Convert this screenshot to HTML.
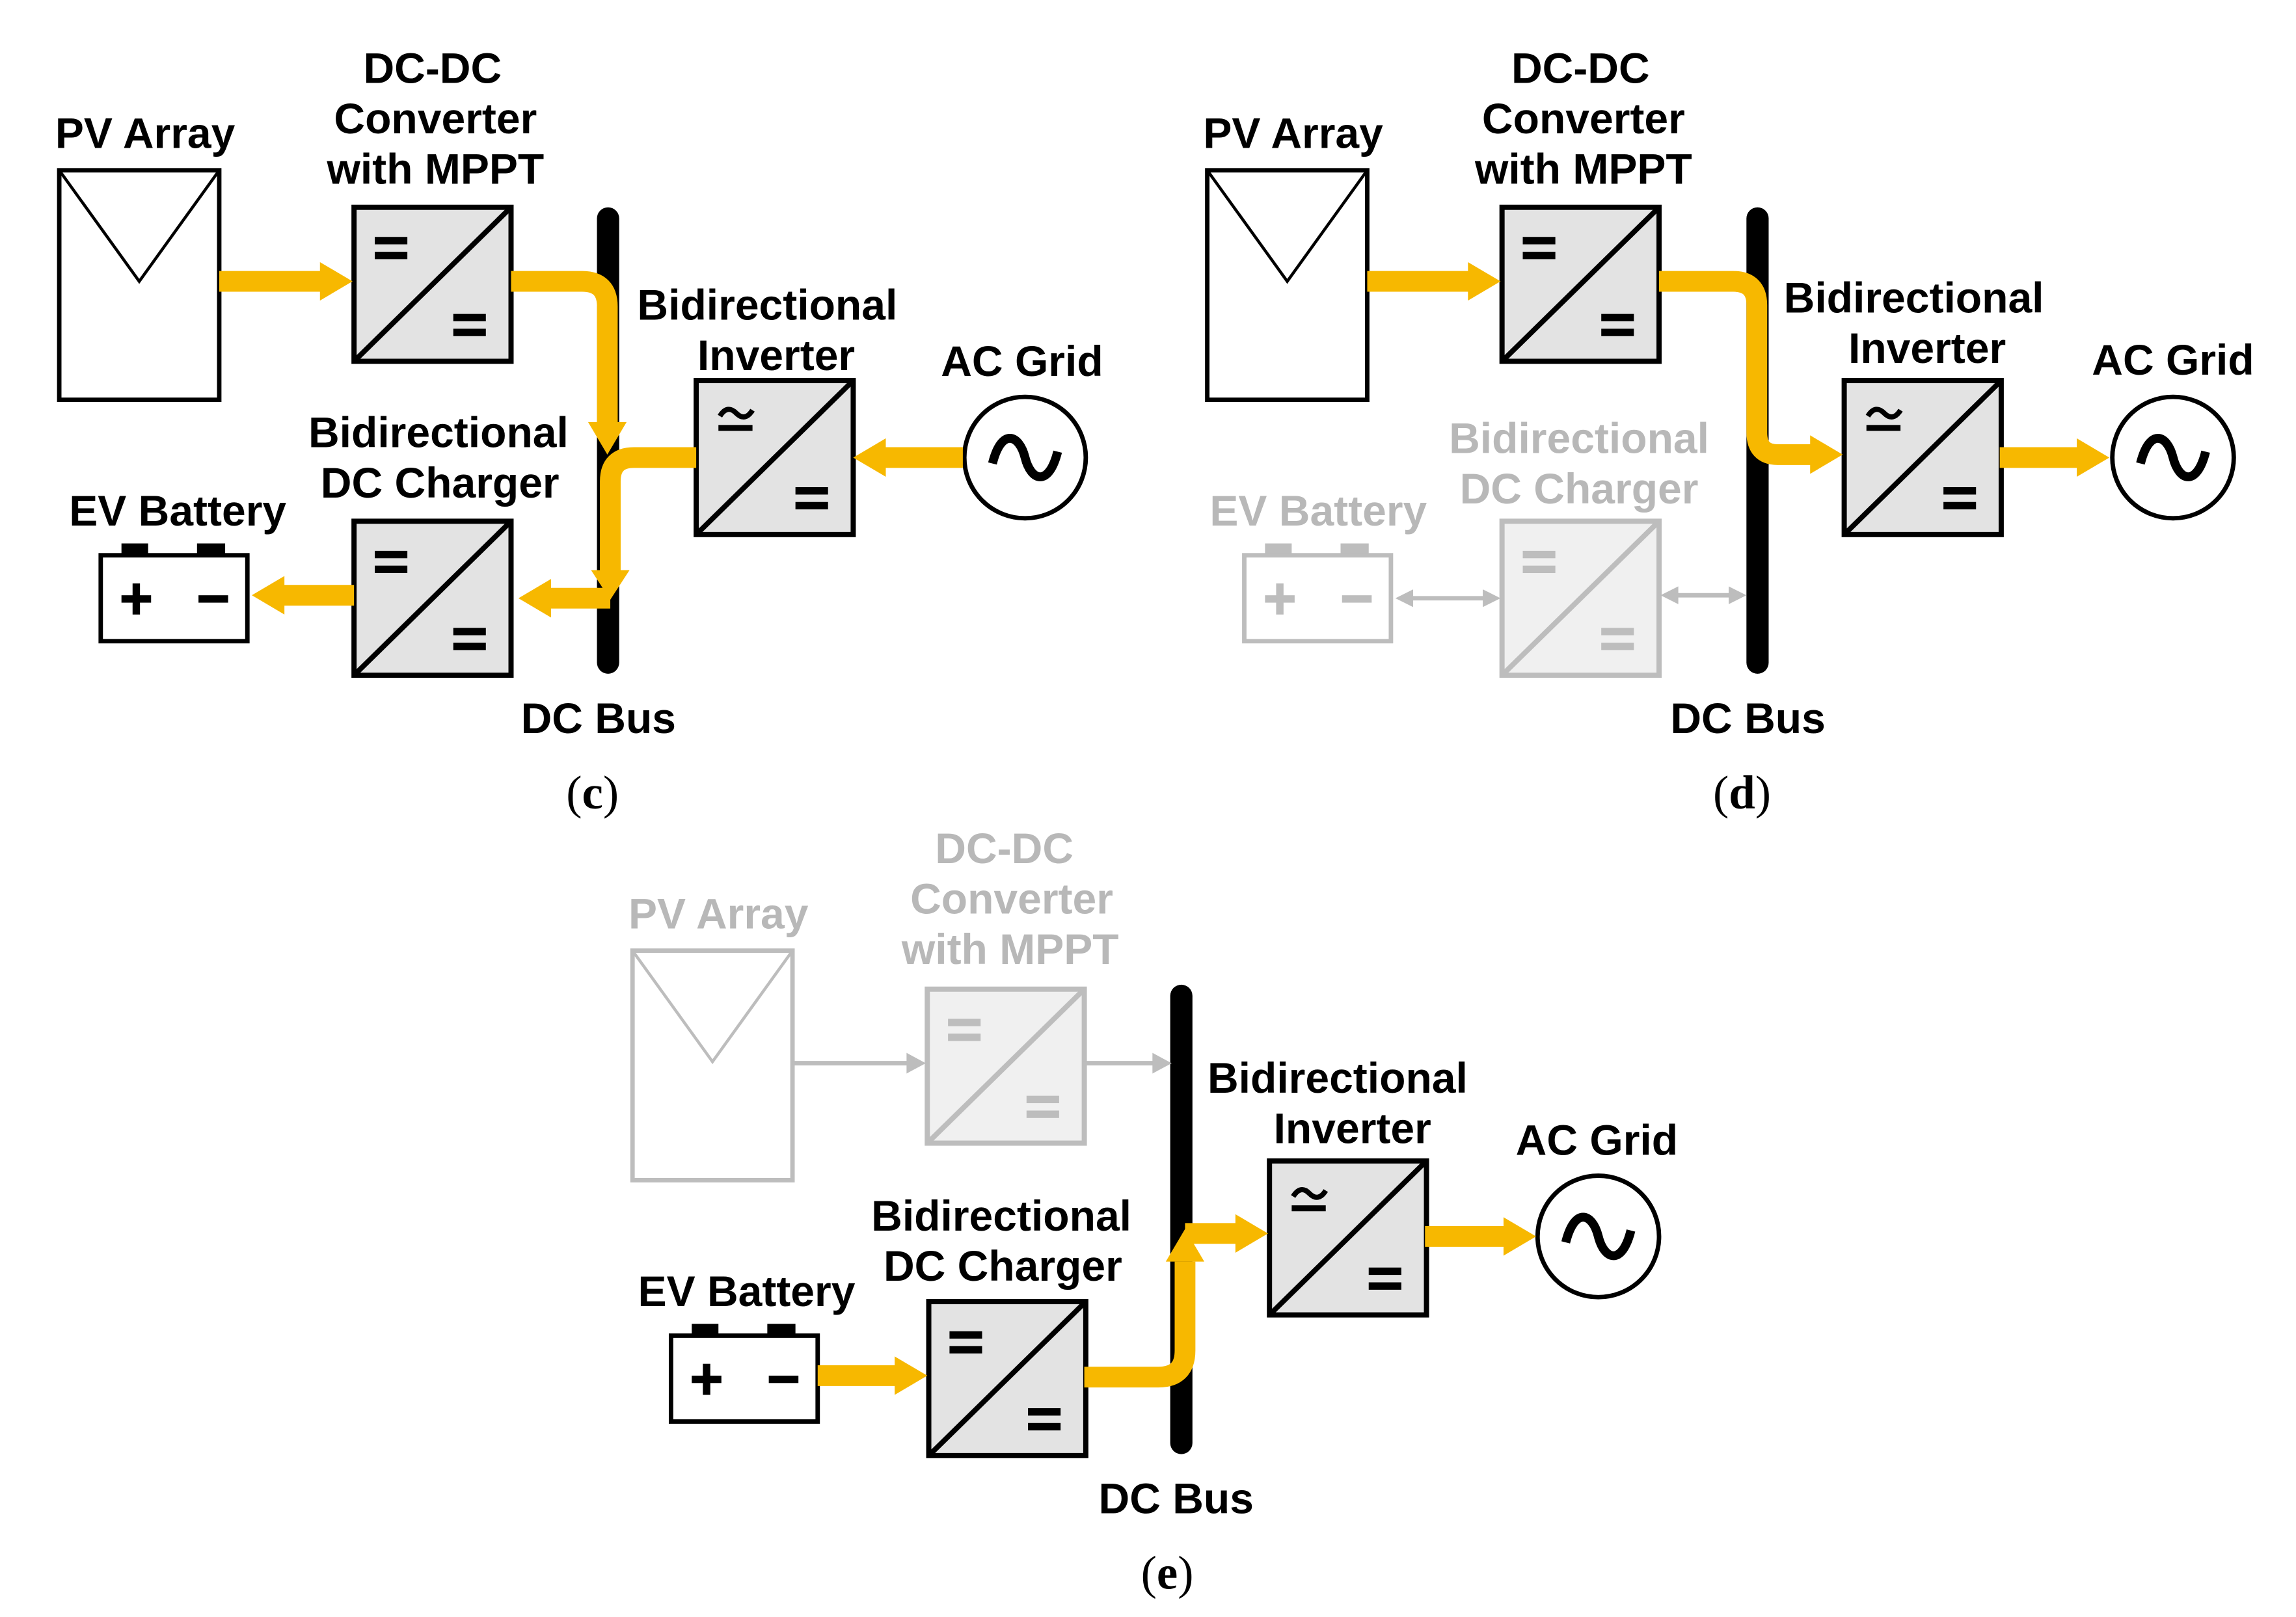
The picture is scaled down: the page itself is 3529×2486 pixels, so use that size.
<!DOCTYPE html>
<html><head><meta charset="utf-8"><style>
html,body{margin:0;padding:0;background:#fff;}
svg{display:block;}
text{font-family:"Liberation Sans",Arial,sans-serif;font-weight:bold;font-size:29px;text-anchor:middle;}
.g{fill:#b8b8b8;}
.cap{font-family:"Liberation Serif",serif;font-size:32px;font-weight:normal;}
</style></head><body>
<svg width="3529" height="2486" viewBox="0 0 1550 1092" preserveAspectRatio="none" xmlns="http://www.w3.org/2000/svg">
<defs>
<g id="conv">
<rect x="0" y="0" width="106" height="104" fill="#e3e3e3" stroke="#000" stroke-width="3.5"/>
<line x1="0" y1="104" x2="106" y2="0" stroke="#000" stroke-width="3.5"/>
<rect x="14" y="20" width="22" height="5" fill="#000"/><rect x="14" y="30" width="22" height="5" fill="#000"/>
<rect x="67" y="72" width="22" height="5" fill="#000"/><rect x="67" y="82" width="22" height="5" fill="#000"/>
</g>
<g id="convg">
<rect x="0" y="0" width="106" height="104" fill="#f0f0f0" stroke="#bdbdbd" stroke-width="3.5"/>
<line x1="0" y1="104" x2="106" y2="0" stroke="#bdbdbd" stroke-width="3.5"/>
<rect x="14" y="20" width="22" height="5" fill="#bdbdbd"/><rect x="14" y="30" width="22" height="5" fill="#bdbdbd"/>
<rect x="67" y="72" width="22" height="5" fill="#bdbdbd"/><rect x="67" y="82" width="22" height="5" fill="#bdbdbd"/>
</g>
<g id="inv">
<rect x="0" y="0" width="106" height="104" fill="#e3e3e3" stroke="#000" stroke-width="3.5"/>
<line x1="0" y1="104" x2="106" y2="0" stroke="#000" stroke-width="3.5"/>
<path d="M16,24 q5,-8 11,-2 t11,-2" fill="none" stroke="#000" stroke-width="3.5"/>
<rect x="15" y="30" width="23" height="4" fill="#000"/>
<rect x="67" y="72" width="22" height="5" fill="#000"/><rect x="67" y="82" width="22" height="5" fill="#000"/>
</g>
<g id="pv">
<rect x="0" y="0" width="108" height="155" fill="#fff" stroke="#000" stroke-width="3"/>
<polyline points="0,0 54,75 108,0" fill="none" stroke="#000" stroke-width="2"/>
</g>
<g id="pvg">
<rect x="0" y="0" width="108" height="155" fill="#fff" stroke="#bdbdbd" stroke-width="3"/>
<polyline points="0,0 54,75 108,0" fill="none" stroke="#bdbdbd" stroke-width="2"/>
</g>
<g id="bat">
<rect x="14" y="-8" width="18" height="9" fill="#000"/><rect x="65" y="-8" width="19" height="9" fill="#000"/>
<rect x="0" y="0" width="99" height="58" fill="#fff" stroke="#000" stroke-width="3"/>
<rect x="14" y="27" width="20" height="5" fill="#000"/><rect x="21.5" y="19" width="5" height="21" fill="#000"/>
<rect x="66" y="27" width="20" height="5" fill="#000"/>
</g>
<g id="batg">
<rect x="14" y="-8" width="18" height="9" fill="#bdbdbd"/><rect x="65" y="-8" width="19" height="9" fill="#bdbdbd"/>
<rect x="0" y="0" width="99" height="58" fill="#fff" stroke="#bdbdbd" stroke-width="3"/>
<rect x="14" y="27" width="20" height="5" fill="#bdbdbd"/><rect x="21.5" y="19" width="5" height="21" fill="#bdbdbd"/>
<rect x="66" y="27" width="20" height="5" fill="#bdbdbd"/>
</g>
<g id="grid">
<circle cx="0" cy="0" r="41" fill="#fff" stroke="#000" stroke-width="3"/>
<path d="M-22,4 C-16,-20 -4,-16 0,0 S16,20 22,-4" fill="none" stroke="#000" stroke-width="6"/>
</g>
</defs>

<!-- ========== (c) ========== -->
<rect x="403" y="140" width="15" height="315" rx="7.5" fill="#000"/>
<use href="#pv" x="40" y="115"/>
<use href="#conv" x="239" y="140"/>
<use href="#inv" x="470" y="257"/>
<use href="#conv" x="239" y="352"/>
<use href="#bat" x="68" y="375"/>
<use href="#grid" x="692" y="309"/>
<g fill="none" stroke="#F7B800" stroke-width="14">
<path d="M148,190 H218"/>
<path d="M345,190 H393 Q410,190 410,207 V287"/>
<path d="M650,309 H596"/>
<path d="M470,309 H428 Q412,309 412,325 V387"/>
<path d="M412,404 H370"/>
<path d="M239,402 H190"/>
</g>
<g fill="#F7B800">
<polygon points="216,177 216,203 238,190"/>
<polygon points="397,285 423,285 410,307"/>
<polygon points="598,296 598,322 576,309"/>
<polygon points="399,385 425,385 412,405"/>
<polygon points="372,391 372,417 350,404"/>
<polygon points="192,389 192,415 170,402"/>
</g>
<text x="98" y="100">PV Array</text>
<text x="292" y="56">DC-DC</text>
<text x="294" y="90">Converter</text>
<text x="294" y="124">with MPPT</text>
<text x="518" y="216">Bidirectional</text>
<text x="524" y="250">Inverter</text>
<text x="690" y="254">AC Grid</text>
<text x="296" y="302">Bidirectional</text>
<text x="297" y="336">DC Charger</text>
<text x="120" y="355">EV Battery</text>
<text x="404" y="495">DC Bus</text>
<text class="cap" x="400" y="546">(<tspan font-weight="bold">c</tspan>)</text>

<!-- ========== (d) ========== -->
<rect x="1179" y="140" width="15" height="315" rx="7.5" fill="#000"/>
<use href="#pv" x="815" y="115"/>
<use href="#conv" x="1014" y="140"/>
<use href="#inv" x="1245" y="257"/>
<use href="#convg" x="1014" y="352"/>
<use href="#batg" x="840" y="375"/>
<use href="#grid" x="1467" y="309"/>
<g fill="none" stroke="#F7B800" stroke-width="14">
<path d="M923,190 H993"/>
<path d="M1120,190 H1170 Q1186,190 1186,206 V292 Q1186,307 1200,307 H1224"/>
<path d="M1350,309 H1404"/>
</g>
<g fill="#F7B800">
<polygon points="991,177 991,203 1013,190"/>
<polygon points="1222,294 1222,320 1244,307"/>
<polygon points="1402,296 1402,322 1424,309"/>
</g>
<g stroke="#bdbdbd" stroke-width="3" fill="#bdbdbd">
<line x1="952" y1="404" x2="1004" y2="404"/>
<polygon points="942,404 954,398 954,410" stroke="none"/>
<polygon points="1013,404 1001,398 1001,410" stroke="none"/>
<line x1="1130" y1="402" x2="1170" y2="402"/>
<polygon points="1121,402 1133,396 1133,408" stroke="none"/>
<polygon points="1179,402 1167,396 1167,408" stroke="none"/>
</g>
<text x="873" y="100">PV Array</text>
<text x="1067" y="56">DC-DC</text>
<text x="1069" y="90">Converter</text>
<text x="1069" y="124">with MPPT</text>
<text x="1292" y="211">Bidirectional</text>
<text x="1301" y="245">Inverter</text>
<text x="1467" y="253">AC Grid</text>
<text class="g" x="1066" y="306">Bidirectional</text>
<text class="g" x="1066" y="340">DC Charger</text>
<text class="g" x="890" y="355">EV Battery</text>
<text x="1180" y="495">DC Bus</text>
<text class="cap" x="1176" y="546">(<tspan font-weight="bold">d</tspan>)</text>

<!-- ========== (e) ========== -->
<rect x="790" y="665" width="15" height="317" rx="7.5" fill="#000"/>
<use href="#pvg" x="427" y="642"/>
<use href="#convg" x="626" y="668"/>
<use href="#inv" x="857" y="784"/>
<use href="#conv" x="627" y="879"/>
<use href="#bat" x="453" y="902"/>
<use href="#grid" x="1079" y="835"/>
<g stroke="#bdbdbd" stroke-width="3" fill="#bdbdbd">
<line x1="535" y1="718" x2="614" y2="718"/>
<polygon points="625,718 612,711 612,725" stroke="none"/>
<line x1="731" y1="718" x2="780" y2="718"/>
<polygon points="791,718 778,711 778,725" stroke="none"/>
</g>
<g fill="none" stroke="#F7B800" stroke-width="14">
<path d="M552,929 H606"/>
<path d="M732,930 H782 Q800,930 800,912 V852"/>
<path d="M800,833 H836"/>
<path d="M962,835 H1017"/>
</g>
<g fill="#F7B800">
<polygon points="604,916 604,942 626,929"/>
<polygon points="787,852 813,852 800,830"/>
<polygon points="834,820 834,846 856,833"/>
<polygon points="1015,822 1015,848 1037,835"/>
</g>
<text class="g" x="485" y="627">PV Array</text>
<text class="g" x="678" y="583">DC-DC</text>
<text class="g" x="683" y="617">Converter</text>
<text class="g" x="682" y="651">with MPPT</text>
<text x="903" y="738">Bidirectional</text>
<text x="913" y="772">Inverter</text>
<text x="1078" y="780">AC Grid</text>
<text x="676" y="831">Bidirectional</text>
<text x="677" y="865">DC Charger</text>
<text x="504" y="882">EV Battery</text>
<text x="794" y="1022">DC Bus</text>
<text class="cap" x="788" y="1073">(<tspan font-weight="bold">e</tspan>)</text>
</svg>
</body></html>
